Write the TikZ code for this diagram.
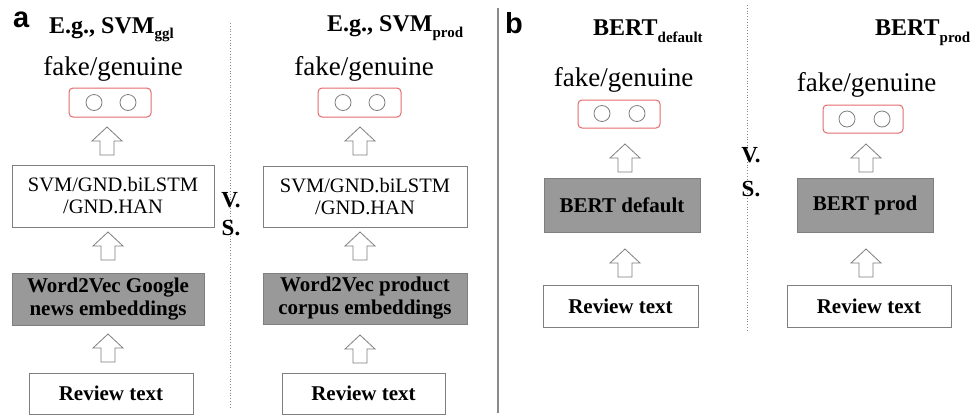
\documentclass[tikz,border=0pt]{standalone}
\usepackage{fontspec}
\setmainfont{Liberation Serif}
\newfontfamily\labelfont{Liberation Sans}
\usetikzlibrary{calc}
\definecolor{boxgray}{HTML}{7F7F7F}
\definecolor{fillgray}{HTML}{999999}
\definecolor{redline}{HTML}{E46A6C}
\definecolor{sepgray}{HTML}{8A8A8A}
\tikzset{
  plainbox/.style={draw=boxgray, line width=1pt, fill=white, align=center, inner sep=0pt, font=\fontsize{20.5}{22}\selectfont},
  graybox/.style={draw=boxgray, line width=1pt, fill=fillgray, align=center, inner sep=0pt, font=\bfseries\fontsize{21}{23}\selectfont},
  reviewbox/.style={plainbox, font=\bfseries\fontsize{21}{23}\selectfont},
  outbox/.style={draw=redline, line width=1pt, rounded corners=4pt, inner sep=0pt},
  neuron/.style={circle, draw=boxgray, line width=0.8pt, minimum size=16pt, inner sep=0pt},
  outlabel/.style={font=\fontsize{27}{29}\selectfont, anchor=base, inner sep=0pt},
  titlelbl/.style={font=\bfseries\fontsize{24}{26}\selectfont, anchor=base west, inner sep=0pt},
  vslbl/.style={font=\bfseries\fontsize{23}{24}\selectfont, inner sep=0pt},
  panellbl/.style={font=\labelfont\bfseries\fontsize{29}{30}\selectfont, anchor=base west, inner sep=0pt},
  blockarrow/.style={draw=boxgray, line width=0.8pt, fill=white},
  sepdotted/.style={draw=sepgray, dotted, line width=0.8pt},
  sepsolid/.style={draw=sepgray, line width=1.5pt},
}
\newcommand\blockarr[1]{\draw[blockarrow] ($(#1)+(-7,14)$) -- ($(#1)+(7,14)$) -- ($(#1)+(7,0)$) -- ($(#1)+(15,0)$) -- ($(#1)+(0,-14)$) -- ($(#1)+(-15,0)$) -- ($(#1)+(-7,0)$) -- cycle;}
\newcommand\subtxt[2]{\raisebox{#1}{\fontsize{15}{15}\selectfont #2}}
\begin{document}
\begin{tikzpicture}[x=1pt, y=-1pt]
\fill[white] (0,0) rectangle (979,416);
\useasboundingbox (0,0) rectangle (979,416);

% separators
\coordinate (dA1) at (230,23); \coordinate (dA2) at (230,409);
\coordinate (sL1) at (498,8); \coordinate (sL2) at (498,413);
\coordinate (dB1) at (747,5); \coordinate (dB2) at (747,331);
\draw[sepdotted] (dA1) -- (dA2);
\draw[sepsolid] (sL1) -- (sL2);
\draw[sepdotted] (dB1) -- (dB2);

% panel labels
\node[panellbl] (pa) at (13,27) {a};
\node[panellbl] (pb) at (505,33) {b};

% ---- panel a, column 1
\node[titlelbl] (titA) at (49,33) {E.g., SVM\subtxt{-5pt}{ggl}};
\node[outlabel] (lblA) at (113,75) {fake/genuine};
\node[outbox, minimum width=82pt, minimum height=29pt] (outA) at (110,102.5) {};
\node[neuron] (outA1) at (94,102.5) {};
\node[neuron] (outA2) at (128,102.5) {};
\node[plainbox, minimum width=202pt, minimum height=62pt] (svmA) at (113,196) {SVM/GND.biLSTM\\/GND.HAN};
\node[graybox, minimum width=192pt, minimum height=52pt] (embA) at (108,299) {Word2Vec Google\\news embeddings};
\node[reviewbox, minimum width=164pt, minimum height=41pt] (revA) at (111,393.5) {Review text};
\coordinate (arA1) at (107,141);
\coordinate (arA2) at (108,246);
\coordinate (arA3) at (108,348);
\blockarr{arA1}\blockarr{arA2}\blockarr{arA3}

\node[vslbl] (vA) at (231,200) {V.};
\node[vslbl] (sA) at (231,228) {S.};

% ---- panel a, column 2
\node[titlelbl] (titB) at (327,31) {E.g., SVM\subtxt{-6pt}{prod}};
\node[outlabel] (lblB) at (364,75) {fake/genuine};
\node[outbox, minimum width=83pt, minimum height=29pt] (outB) at (359.5,102.5) {};
\node[neuron] (outB1) at (343,102.5) {};
\node[neuron] (outB2) at (377,102.5) {};
\node[plainbox, minimum width=204pt, minimum height=61pt] (svmB) at (365,196.5) {SVM/GND.biLSTM\\/GND.HAN};
\node[graybox, minimum width=204pt, minimum height=51pt] (embB) at (365,298.5) {Word2Vec product\\corpus embeddings};
\node[reviewbox, minimum width=163pt, minimum height=41pt] (revB) at (363.5,393.5) {Review text};
\coordinate (arB1) at (360,141);
\coordinate (arB2) at (360,246);
\coordinate (arB3) at (360,349);
\blockarr{arB1}\blockarr{arB2}\blockarr{arB3}

% ---- panel b, column 1
\node[titlelbl] (titC) at (593,35) {BERT\subtxt{-7pt}{default}};
\node[outlabel] (lblC) at (623.5,86) {fake/genuine};
\node[outbox, minimum width=82pt, minimum height=28pt] (outC) at (619,114) {};
\node[neuron] (outC1) at (602,113.5) {};
\node[neuron] (outC2) at (637,113.5) {};
\node[graybox, minimum width=156pt, minimum height=54pt] (bertA) at (622,205) {BERT default};
\node[reviewbox, minimum width=155pt, minimum height=42pt] (revC) at (620.5,306) {Review text};
\coordinate (arC1) at (625,158);
\coordinate (arC2) at (625,263);
\blockarr{arC1}\blockarr{arC2}

\node[vslbl] (vB) at (751,155) {V.};
\node[vslbl] (sB) at (751,189) {S.};

% ---- panel b, column 2
\node[titlelbl] (titD) at (875,35) {BERT\subtxt{-7pt}{prod}};
\node[outlabel] (lblD) at (866.5,91) {fake/genuine};
\node[outbox, minimum width=80pt, minimum height=28pt] (outD) at (863,119) {};
\node[neuron] (outD1) at (847,119) {};
\node[neuron] (outD2) at (882,119) {};
\node[graybox, minimum width=136pt, minimum height=54pt] (bertB) at (865,205) {BERT prod};
\node[reviewbox, minimum width=164pt, minimum height=42pt] (revD) at (869,306) {Review text};
\coordinate (arD1) at (866,158);
\coordinate (arD2) at (866,263);
\blockarr{arD1}\blockarr{arD2}
\end{tikzpicture}
\end{document}
